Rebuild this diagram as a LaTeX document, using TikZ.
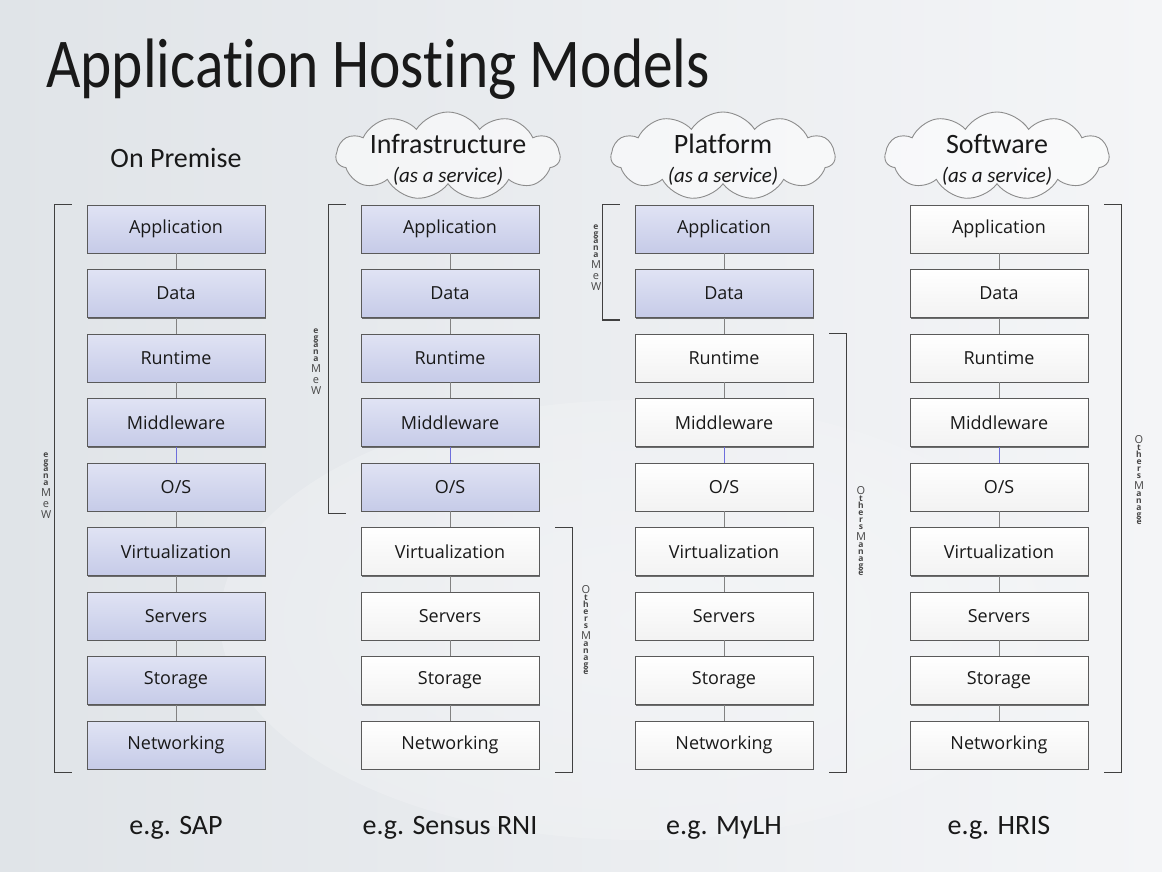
\documentclass[tikz,border=0pt]{standalone}
\usepackage{fontspec}
\setmainfont{Carlito}[Ligatures=NoCommon]
\newfontfamily\boxfont{Open Sans}
\usetikzlibrary{shapes.symbols,shadows}
\definecolor{bgA}{RGB}{224,228,232}
\definecolor{bgB}{RGB}{244,245,247}
\definecolor{bluetop}{RGB}{224,227,244}
\definecolor{bluebot}{RGB}{198,203,232}
\definecolor{edge}{RGB}{90,90,90}
\definecolor{linkc}{RGB}{130,130,130}
\definecolor{bluelink}{RGB}{110,110,220}
\definecolor{txt}{RGB}{25,25,25}
\newcommand\Lt[1]{\hbox to 10pt{\vrule height 9pt depth 2pt width 0pt\hfil{\fontsize{11}{11}\selectfont\smash{#1}}\hfil}}
\newcommand\Ls[1]{\hbox to 10pt{\vrule height 5.5pt depth 1.5pt width 0pt\hfil{\fontsize{8.5}{8.5}\selectfont\bfseries\smash{#1}}\hfil}}
\newcommand\weman{\vbox{\offinterlineskip\Ls{e}\Ls{g}\Ls{a}\Ls{n}\Ls{a}\Lt{M}\Lt{e}\Lt{W}}}
\newcommand\othman{\vbox{\offinterlineskip\Lt{O}\Ls{t}\Ls{h}\Ls{e}\Ls{r}\Ls{s}\Lt{M}\Ls{a}\Ls{n}\Ls{a}\Ls{g}\Ls{e}}}
\begin{document}
\begin{tikzpicture}[x=1pt,y=-1pt,
  boxbase/.style={draw=edge, line width=0.6pt, minimum width=178pt, minimum height=48pt,
    inner sep=0pt, text=txt, font=\boxfont\fontsize{18}{22}\selectfont,
    drop shadow={shadow xshift=1.3pt, shadow yshift=-1.3pt, fill=black!70, opacity=0.8}},
  bbox/.style={boxbase, top color=bluetop, bottom color=bluebot},
  wbox/.style={boxbase, top color=white, bottom color=black!5},
  linkst/.style={draw=linkc, line width=0.8pt},
  bluest/.style={draw=bluelink, line width=0.8pt},
  brk/.style={draw=black!75, line width=1.4pt},
  mlabel/.style={font=\boxfont, text=black!72, inner sep=0pt},
  cloudsty/.style={cloud, cloud puffs=11, cloud puff arc=115, aspect=2.5, draw=black!45,
    line width=0.9pt, fill=white, fill opacity=0.55, minimum width=224pt, minimum height=88pt},
  head/.style={font=\fontsize{28}{32}\selectfont, text=txt},
  sub/.style={font=\fontsize{21}{25}\selectfont\itshape, text=txt},
  eg/.style={font=\fontsize{28}{32}\selectfont, text=txt}]
\useasboundingbox (0,0) rectangle (1162,872);
\shade[left color=bgA, right color=bgB] (0,0) rectangle (1162,872);
\shade[inner color=white, outer color=bgB, opacity=0.35] (640,620) ellipse (420 and 220);

\node[anchor=base west, font=\fontsize{70}{76}\selectfont, text=txt, inner sep=0pt] (title) at (46,88) {\scalebox{0.85}[1]{Application Hosting Models}};

% headers
\node[head] (h1) at (176,158) {On Premise};
\node[cloudsty] (c2) at (448,156) {};
\node[cloudsty] (c3) at (723,156) {};
\node[cloudsty] (c4) at (997,156) {};
\node[head] (h2) at (448,144) {Infrastructure};
\node[sub] (s2) at (448,176) {(as a service)};
\node[head] (h3) at (723,144) {Platform};
\node[sub] (s3) at (723,176) {(as a service)};
\node[head] (h4) at (997,144) {Software};
\node[sub] (s4) at (997,176) {(as a service)};

% boxes
\foreach \c/\x/\n in {1/176/9,2/450/5,3/724/2,4/999/0}{
  \foreach \t [count=\i] in {Application,Data,Runtime,Middleware,O/S,Virtualization,Servers,Storage,Networking}{
    \ifnum\i>\n \def\sty{wbox}\else\def\sty{bbox}\fi
    \node[\sty] (b\c-\i) at (\x,{229+64.5*(\i-1)}) {\t};
  }
}
% connectors
\foreach \c in {1,2,3,4}{
  \foreach \i in {1,...,8}{
    \pgfmathtruncatemacro\j{\i+1}
    \ifnum\i=4 \def\lsty{bluest}\else\def\lsty{linkst}\fi
    \draw[\lsty] (b\c-\i.south) -- (b\c-\j.north);
  }
}

% brackets
\draw[brk] ([xshift=-15pt]b1-1.north west) -- ++(-17,0) |- ([xshift=-15pt,yshift=-3pt]b1-9.south west);
\draw[brk] ([xshift=-15pt]b2-1.north west) -- ++(-17,0) |- ([xshift=-15pt,yshift=-2pt]b2-5.south west);
\draw[brk] ([xshift=-15pt]b3-1.north west) -- ++(-17,0) |- ([xshift=-15pt,yshift=-2pt]b3-2.south west);
\draw[brk] ([xshift=16pt]b2-6.north east) -- ++(17,0) |- ([xshift=16pt,yshift=-3pt]b2-9.south east);
\draw[brk] ([xshift=16pt]b3-3.north east) -- ++(17,0) |- ([xshift=16pt,yshift=-3pt]b3-9.south east);
\draw[brk] ([xshift=16pt]b4-1.north east) -- ++(17,0) |- ([xshift=16pt,yshift=-3pt]b4-9.south east);

% bracket labels
\node[mlabel] (w1) at (46,486) {\weman};
\node[mlabel] (w2) at (316,362) {\weman};
\node[mlabel] (w3) at (596,258) {\weman};
\node[mlabel] (o2) at (586,630) {\othman};
\node[mlabel] (o3) at (861,531) {\othman};
\node[mlabel] (o4) at (1139,480) {\othman};

% examples
\node[eg] (e1) at (176,828) {e.g. SAP};
\node[eg] (e2) at (450,828) {e.g. Sensus RNI};
\node[eg] (e3) at (724,828) {e.g. MyLH};
\node[eg] (e4) at (999,828) {e.g. HRIS};
\end{tikzpicture}
\end{document}
